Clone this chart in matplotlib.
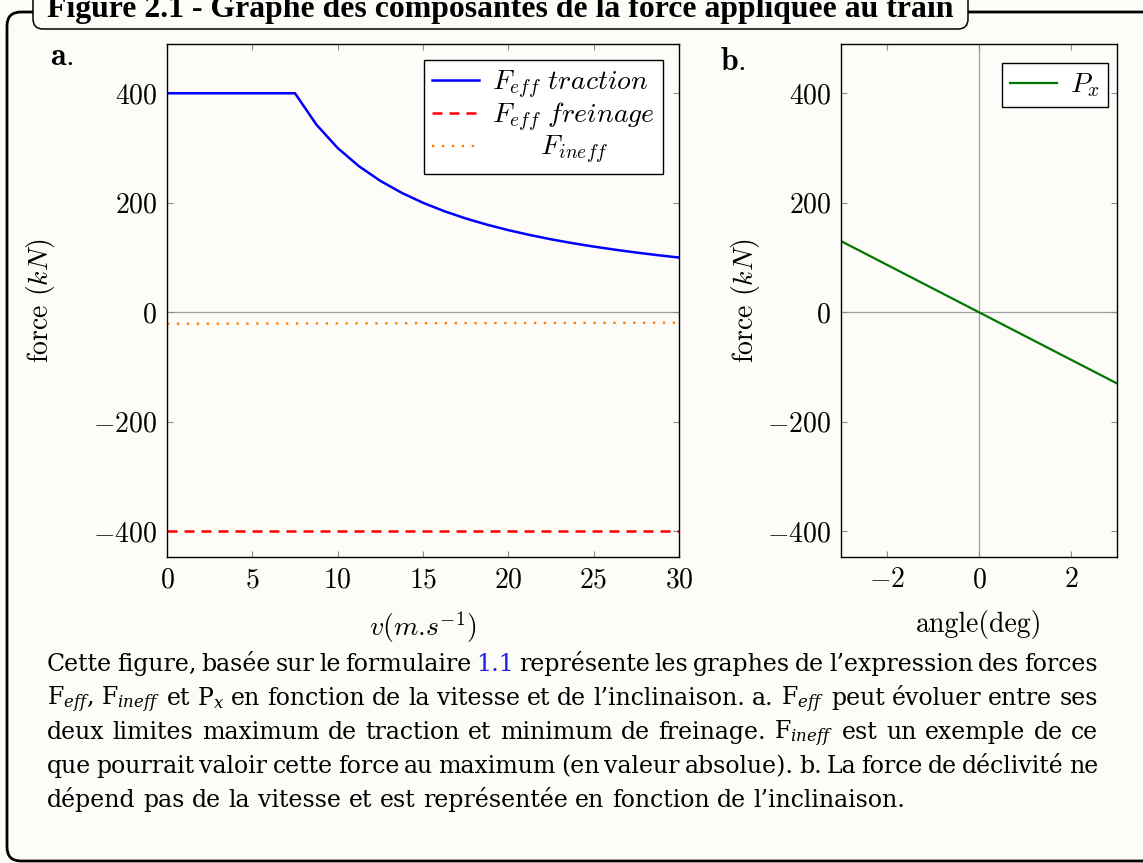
import matplotlib
matplotlib.use("Agg")
import matplotlib.pyplot as plt
from matplotlib.patches import FancyBboxPatch

W, H = 1143, 863
BG = "#fdfcf8"

# Panneau a : forces en fonction de la vitesse
vitesse = [0, 1.25, 2.5, 3.75, 5, 6.25, 7.5, 8.75, 10, 11.25, 12.5, 13.75, 15,
           16.25, 17.5, 18.75, 20, 21.25, 22.5, 23.75, 25, 26.25, 27.5, 28.75, 30]
f_traction = [400, 400, 400, 400, 400, 400, 400, 342.9, 300, 266.7, 240, 218.2, 200,
              184.6, 171.4, 160, 150, 141.2, 133.3, 126.3, 120, 114.3, 109.1, 104.3, 100]
vitesse_lim = [0, 30]
f_freinage = [-400, -400]
f_ineff = [-21, -19]

# Panneau b : force de déclivité en fonction de l'angle
angle = [-3, 0, 3]
p_x = [130, 0, -130]

ticks_vitesse = [0, 5, 10, 15, 20, 25, 30]
ticks_force = [-400, -200, 0, 200, 400]
ticks_angle = [-2, 0, 2]

titre = "Figure 2.1 - Graphe des composantes de la force appliquée au train"
legende = [
    "Cette figure, basée sur le formulaire 1.1 représente les graphes de l’expression des forces",
    "F$_{eff}$, F$_{ineff}$ et P$_x$ en fonction de la vitesse et de l’inclinaison. a. F$_{eff}$ peut évoluer entre ses",
    "deux limites maximum de traction et minimum de freinage. F$_{ineff}$ est un exemple de ce",
    "que pourrait valoir cette force au maximum (en valeur absolue). b. La force de déclivité ne",
    "dépend pas de la vitesse et est représentée en fonction de l’inclinaison.",
]

plt.rcParams["font.family"] = "serif"
plt.rcParams["font.serif"] = ["cmr10"]
plt.rcParams["mathtext.fontset"] = "cm"
plt.rcParams["axes.formatter.use_mathtext"] = True
plt.rcParams["axes.unicode_minus"] = True

fig = plt.figure(figsize=(W / 100, H / 100), dpi=100, facecolor=BG)

# Fond en coordonnées pixels pour le cadre et le texte
bg = fig.add_axes([0, 0, 1, 1], zorder=0)
bg.set_xlim(0, W)
bg.set_ylim(H, 0)
bg.axis("off")

bg.add_patch(FancyBboxPatch((7, 12), 1250, 849, boxstyle="round,pad=0,rounding_size=14",
                            fill=False, ec="black", lw=2.0, zorder=1))
bg.add_patch(FancyBboxPatch((33, -30), 935, 59, boxstyle="round,pad=0,rounding_size=10",
                            fc=BG, ec="black", lw=1.1, zorder=2))

renderer = fig.canvas.get_renderer()
t = bg.text(47, 17, titre, fontsize=20, fontweight="bold", family="Liberation Serif",
            ha="left", va="baseline", zorder=3)
w = t.get_window_extent(renderer).width
t.set_fontsize(20 * 908 / w)

# Légende de la figure, justifiée mot par mot
gauche, droite = 47, 1098
taille = 17
for i, ligne in enumerate(legende):
    y = 671 + 34 * i
    mots = ligne.split(" ")
    textes = []
    for m in mots:
        couleur = "#1f1fe6" if m == "1.1" else "black"
        textes.append(bg.text(0, y, m, fontsize=taille, family="DejaVu Serif",
                              math_fontfamily="dejavuserif", color=couleur,
                              ha="left", va="baseline"))
    largeurs = [tx.get_window_extent(renderer).width for tx in textes]
    if i == len(legende) - 1:
        espace = taille * 1.389 * 0.32
    else:
        espace = (droite - gauche - sum(largeurs)) / (len(mots) - 1)
    x = gauche
    for tx, lw in zip(textes, largeurs):
        tx.set_x(x)
        x += lw + espace


def style(ax):
    ax.set_facecolor("none")
    for s in ax.spines.values():
        s.set_color("black")
        s.set_linewidth(1.0)
    ax.tick_params(direction="in", length=4.5, width=0.8, color="#8c8c8c",
                   top=True, right=True, labelsize=20, pad=7)


ax_a = fig.add_axes([167 / W, 1 - 557 / H, 512 / W, 513 / H], zorder=2)
ax_b = fig.add_axes([841 / W, 1 - 557 / H, 276 / W, 513 / H], zorder=2)

for ax in (ax_a, ax_b):
    style(ax)
    ax.set_ylim(-447, 490)
    ax.set_yticks(ticks_force)
    ax.axhline(0, color="#a0a0a0", lw=0.9, zorder=1)
    ax.set_ylabel("force $(kN)$", fontsize=20)

ax_a.plot(vitesse, f_traction, color="#0000ff", lw=1.8, label=r"$F_{eff}\ traction$")
ax_a.plot(vitesse_lim, f_freinage, color="#ff0000", lw=1.8, linestyle=(0, (4, 2.8)),
          label=r"$F_{eff}\ freinage$")
ax_a.plot(vitesse_lim, f_ineff, color="#ff8000", lw=1.7, linestyle=(0, (1, 3.2)),
          label=r"$\quad\ \ \ F_{ineff}$")
ax_a.set_xlim(0, 30)
ax_a.set_xticks(ticks_vitesse)
ax_a.set_xlabel(r"$v(m$.$s^{-1})$", fontsize=20)
ax_a.xaxis.set_label_coords(0.5, -0.103)
ax_a.yaxis.set_label_coords(-0.215, 0.5)

ax_b.axvline(0, color="#a0a0a0", lw=0.9, zorder=1)
ax_b.plot(angle, p_x, color="#007800", lw=1.6, label=r"$P_x$")
ax_b.set_xlim(-3, 3)
ax_b.set_xticks(ticks_angle)
ax_b.set_xlabel("angle(deg)", fontsize=20)
ax_b.xaxis.set_label_coords(0.5, -0.103)
ax_b.yaxis.set_label_coords(-0.285, 0.5)

# Légendes ancrées en pixels (coin haut droit)
for ax, (lx, ly) in ((ax_a, (663, 60)), (ax_b, (1108, 63))):
    leg = ax.legend(loc="upper right", bbox_to_anchor=(lx / W, 1 - ly / H),
                    bbox_transform=fig.transFigure, fontsize=20, frameon=True,
                    fancybox=False, edgecolor="black", framealpha=1, borderaxespad=0,
                    handlelength=1.7, handletextpad=0.45, labelspacing=0.0,
                    borderpad=0.3)
    leg.get_frame().set_linewidth(1.0)

fig.text(62 / W, 1 - 57 / H, r"$\mathbf{a.}$", fontsize=23, ha="center", va="center")
fig.text(733 / W, 1 - 62 / H, r"$\mathbf{b.}$", fontsize=23, ha="center", va="center")

fig.savefig("out.png", dpi=100, facecolor=BG)
